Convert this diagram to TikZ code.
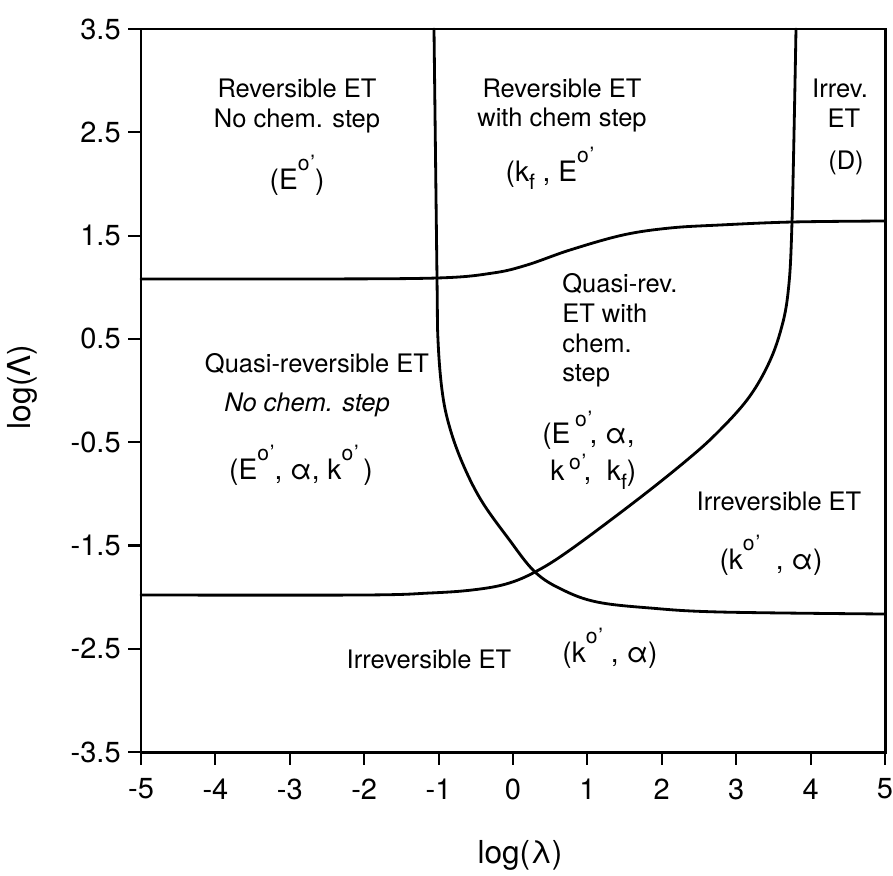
\documentclass[tikz,border=0pt]{standalone}
\usepackage{fontspec}
\setmainfont{TeX Gyre Heros}
\newcommand{\supo}[1][0.66em]{\raisebox{#1}{\fontsize{12}{12}\selectfont o\kern0.04em’}}
\newcommand{\subf}{\raisebox{-0.32em}{\fontsize{12}{12}\selectfont f}}
\tikzset{
  frame/.style={line width=1.7pt},
  curve/.style={line width=1.6pt, line join=round, line cap=round},
  tickmark/.style={line width=1.2pt},
  ticklab/.style={font=\fontsize{16.5}{18}\selectfont, inner sep=0pt},
  region/.style={font=\fontsize{14.5}{17}\selectfont, inner sep=0pt, anchor=base},
  regionw/.style={font=\fontsize{14.5}{17}\selectfont, inner sep=0pt, anchor=base west},
  param/.style={font=\fontsize{16}{18}\selectfont, inner sep=0pt, anchor=base},
  paramw/.style={font=\fontsize{16}{18}\selectfont, inner sep=0pt, anchor=base west},
  axlab/.style={font=\fontsize{18}{20}\selectfont, inner sep=0pt}
}
\begin{document}
\begin{tikzpicture}[x=0.02cm, y=-0.02cm]
\useasboundingbox (0,0) rectangle (893,876);
% frame
\draw[frame] (141,29) rectangle (885,752);
% y ticks
\foreach \i/\lab in {0/3.5,1/2.5,2/1.5,3/0.5,4/-0.5,5/-1.5,6/-2.5,7/-3.5} {
  \draw[tickmark] (128, 29+\i*103.29) -- (141, 29+\i*103.29);
  \node[ticklab, anchor=east] (yl\i) at (121, 29+\i*103.29) {\lab};
}
% x ticks
\foreach \i in {0,...,10} {
  \pgfmathtruncatemacro\v{\i-5}
  \draw[tickmark] (141+\i*74.4, 752) -- (141+\i*74.4, 765);
  \node[ticklab] (xl\i) at (141+\i*74.4, 789) {\v};
}
% boundary curves
\draw[curve] plot[smooth, tension=0.6] coordinates {(434,29) (437,278) (438,340) (442,390) (449,425) (462,462) (481,500) (508,538) (535,572) (563,590) (597,602) (650,608) (720,612) (885,614)};
\draw[curve] plot[smooth, tension=0.6] coordinates {(141,279) (300,279) (437,278) (493,273) (527,265) (570,250) (623,235) (670,228) (720,225) (792,222) (885,221)};
\draw[curve] plot[smooth, tension=0.6] coordinates {(141,595) (363,595) (430,593) (472,590) (506,584) (535,572) (570,550) (637,500) (687,460) (717,433) (747,400) (767,367) (780,333) (788,293) (792,222) (796,29)};
% region labels
\node[region] (r1a) at (297,97) {Reversible ET};
\node[region] (r1b) at (297,127) {No chem. step};
\node[param] (r1p) at (297,189) {(E\supo)};
\node[region] (r2a) at (562,97) {Reversible ET};
\node[region] (r2b) at (562,126) {with chem step};
\node[param] (r2p) at (550,181) {(k\subf\ , E\supo};
\node[region] (r3a) at (840,97) {Irrev.};
\node[region] (r3b) at (844,127) {ET};
\node[region] (r3p) at (846,169) {(D)};
\node[region] (r4a) at (317,372) {Quasi-reversible ET};
\node[region] (r4b) at (307,411) {\itshape No chem. step};
\node[param] (r4p) at (301,479) {(E\supo, α, k\supo\,)};
\node[regionw] (r5a) at (562,292) {Quasi-rev.};
\node[regionw] (r5b) at (562,322) {ET with};
\node[regionw] (r5c) at (562,352) {chem.};
\node[regionw] (r5d) at (562,381) {step};
\node[paramw] (r5p1) at (542,443) {(E\,\supo[0.6em]\kern-0.1em, α,};
\node[paramw] (r5p2) at (550,480) {k\,\supo[0.38em]\kern-0.1em, \ k\subf)};
\node[region] (r6a) at (779,510) {Irreversible ET};
\node[param] (r6p) at (771,569) {(k\supo\ \ , α)};
\node[region] (r7a) at (429,668) {Irreversible ET};
\node[param] (r7p) at (610,662) {(k\supo\ , α)};
% axis labels
\node[axlab] (xlab) at (520,855) {log(λ)};
\node[axlab, rotate=90] (ylab) at (22,387) {log(Λ)};
\end{tikzpicture}
\end{document}
